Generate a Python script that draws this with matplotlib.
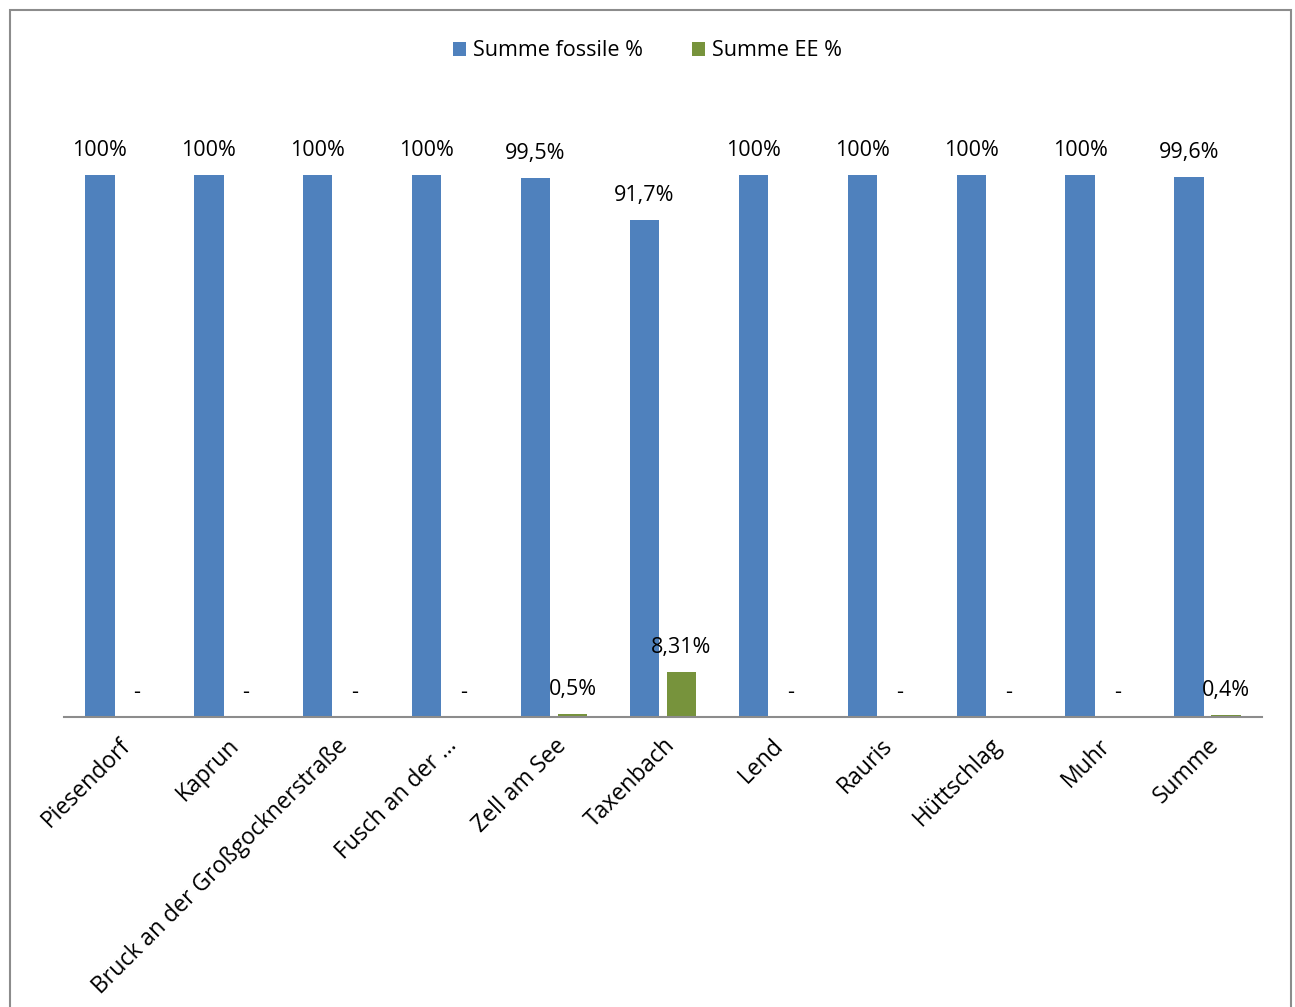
import matplotlib.pyplot as plt
import numpy as np
from matplotlib.patches import Rectangle

plt.rcParams['font.family'] = ['Open Sans', 'DejaVu Sans']

gemeinden = ["Piesendorf", "Kaprun", "Bruck an der Großgocknerstraße", "Fusch an der ...",
             "Zell am See", "Taxenbach", "Lend", "Rauris", "Hüttschlag", "Muhr", "Summe"]
fossil = [100, 100, 100, 100, 99.5, 91.7, 100, 100, 100, 100, 99.6]
ee = [0, 0, 0, 0, 0.5, 8.31, 0, 0, 0, 0, 0.4]
fossilLabels = ["100%", "100%", "100%", "100%", "99,5%", "91,7%", "100%", "100%", "100%", "100%", "99,6%"]
eeLabels = ["-", "-", "-", "-", "0,5%", "8,31%", "-", "-", "-", "-", "0,4%"]

blue = "#4F81BD"
green = "#77933C"
fs = 15.5

W, H = 1295, 1007
fig = plt.figure(figsize=(W / 100, H / 100), dpi=100)

# plot area in pixels: x 64..1262, baseline at y=717
x0, x1 = 64, 1262
yBase, yTop = 717, 66.6
ax = fig.add_axes([x0 / W, 1 - yBase / H, (x1 - x0) / W, (yBase - yTop) / H])

x = np.arange(len(gemeinden))
width = 0.27
off = 0.17
b1 = ax.bar(x - off, fossil, width, color=blue, label="Summe fossile %")
b2 = ax.bar(x + off, ee, width, color=green, label="Summe EE %")

for bars, labels in ((b1, fossilLabels), (b2, eeLabels)):
    for rect, lab in zip(bars, labels):
        ax.annotate(lab, (rect.get_x() + rect.get_width() / 2, rect.get_height()),
                    xytext=(0, 10), textcoords="offset points", ha="center", va="bottom", fontsize=fs)

ax.set_xlim(-0.5, len(gemeinden) - 0.5)
ax.set_ylim(0, 120)
ax.set_yticks([])
ax.set_xticks(x)
ax.set_xticklabels(gemeinden, rotation=45, ha="right", rotation_mode="anchor", fontsize=16.5)
ax.tick_params(axis="x", length=0, pad=12)
for side in ["top", "right", "left"]:
    ax.spines[side].set_visible(False)
ax.spines["bottom"].set_color("#8C8C8C")
ax.spines["bottom"].set_linewidth(1.5)

fig.legend(loc="center", bbox_to_anchor=(0.5, 1 - 51 / H), ncol=2, frameon=False, fontsize=fs,
           handlelength=0.6, handleheight=0.6, handletextpad=0.3, columnspacing=2.3)

# outer chart frame
fig.patches.append(Rectangle((10 / W, -0.05), (1291 - 10) / W, 1.05 - 10 / H, transform=fig.transFigure,
                             fill=False, edgecolor="#8C8C8C", linewidth=1.5))

fig.savefig("out.png", dpi=100)
